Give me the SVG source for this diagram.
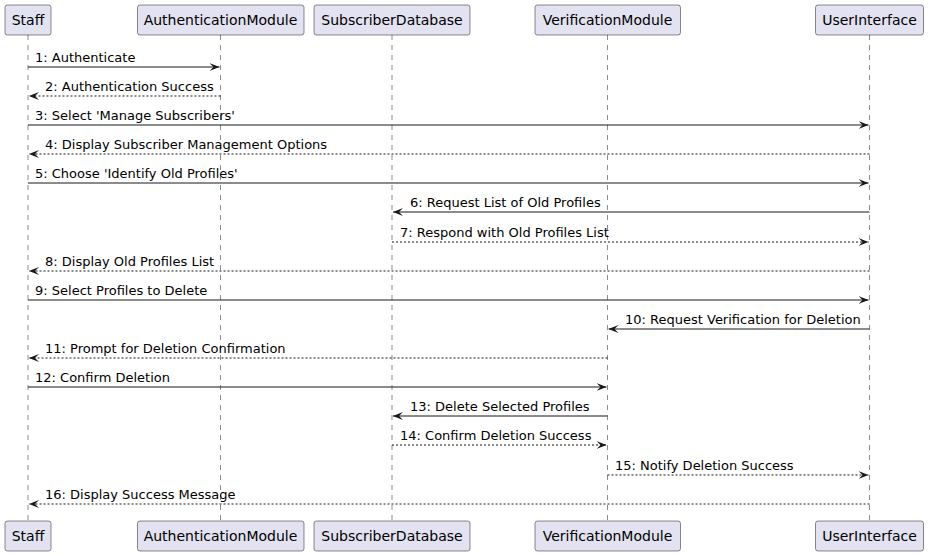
<svg xmlns="http://www.w3.org/2000/svg" width="928" height="556" viewBox="0 0 928 556">
<defs>
<style>
.box{fill:#E2E2F0;stroke:#181818;stroke-width:0.5}
.pt{font-family:"DejaVu Sans","Liberation Sans",sans-serif;font-size:14px;fill:#000;text-anchor:middle}
.life{stroke:#181818;stroke-width:0.5;stroke-dasharray:5,5}
.msg{stroke:#181818;stroke-width:1;fill:none;marker-end:url(#ah)}
.dash{stroke-dasharray:2,2}
.ml{font-family:"DejaVu Sans","Liberation Sans",sans-serif;font-size:13px;fill:#000}
</style>
<marker id="ah" viewBox="0 0 10 8" refX="10" refY="4" markerWidth="10" markerHeight="8" markerUnits="userSpaceOnUse" orient="auto">
<path d="M0,0 L10,4 L0,8 L4,4 Z" fill="#181818"/>
</marker>
</defs>
<rect width="928" height="556" fill="#fff"/>
<g id="lifelines">
<line class="life" x1="28" y1="35" x2="28" y2="521"/>
<line class="life" x1="220.5" y1="35" x2="220.5" y2="521"/>
<line class="life" x1="392" y1="35" x2="392" y2="521"/>
<line class="life" x1="607.5" y1="35" x2="607.5" y2="521"/>
<line class="life" x1="869.5" y1="35" x2="869.5" y2="521"/>
</g>
<g id="Staff">
<rect class="box" x="5" y="5" width="46" height="30" rx="2.5"/>
<text class="pt" x="28" y="25">Staff</text>
<rect class="box" x="5" y="521" width="46" height="30" rx="2.5"/>
<text class="pt" x="28" y="541">Staff</text>
</g>
<g id="AuthenticationModule">
<rect class="box" x="137.5" y="5" width="166.5" height="30" rx="2.5"/>
<text class="pt" x="220.5" y="25">AuthenticationModule</text>
<rect class="box" x="137.5" y="521" width="166.5" height="30" rx="2.5"/>
<text class="pt" x="220.5" y="541">AuthenticationModule</text>
</g>
<g id="SubscriberDatabase">
<rect class="box" x="314" y="5" width="156" height="30" rx="2.5"/>
<text class="pt" x="392" y="25">SubscriberDatabase</text>
<rect class="box" x="314" y="521" width="156" height="30" rx="2.5"/>
<text class="pt" x="392" y="541">SubscriberDatabase</text>
</g>
<g id="VerificationModule">
<rect class="box" x="535" y="5" width="145.5" height="30" rx="2.5"/>
<text class="pt" x="607.5" y="25">VerificationModule</text>
<rect class="box" x="535" y="521" width="145.5" height="30" rx="2.5"/>
<text class="pt" x="607.5" y="541">VerificationModule</text>
</g>
<g id="UserInterface">
<rect class="box" x="815.5" y="5" width="108" height="30" rx="2.5"/>
<text class="pt" x="869.5" y="25">UserInterface</text>
<rect class="box" x="815.5" y="521" width="108" height="30" rx="2.5"/>
<text class="pt" x="869.5" y="541">UserInterface</text>
</g>
<g id="connectors">
<line class="msg" x1="28" y1="67" x2="219.5" y2="67"/>
<text class="ml" x="35" y="62">1: Authenticate</text>
<line class="msg dash" x1="220.5" y1="96" x2="29" y2="96"/>
<text class="ml" x="45" y="91">2: Authentication Success</text>
<line class="msg" x1="28" y1="125" x2="868.5" y2="125"/>
<text class="ml" x="35" y="120">3: Select 'Manage Subscribers'</text>
<line class="msg dash" x1="869.5" y1="154" x2="29" y2="154"/>
<text class="ml" x="45" y="149">4: Display Subscriber Management Options</text>
<line class="msg" x1="28" y1="183" x2="868.5" y2="183"/>
<text class="ml" x="35" y="178">5: Choose 'Identify Old Profiles'</text>
<line class="msg" x1="869.5" y1="212" x2="393" y2="212"/>
<text class="ml" x="410" y="207">6: Request List of Old Profiles</text>
<line class="msg dash" x1="392" y1="242" x2="868.5" y2="242"/>
<text class="ml" x="400" y="237">7: Respond with Old Profiles List</text>
<line class="msg dash" x1="869.5" y1="271" x2="29" y2="271"/>
<text class="ml" x="45" y="266">8: Display Old Profiles List</text>
<line class="msg" x1="28" y1="300" x2="868.5" y2="300"/>
<text class="ml" x="35" y="295">9: Select Profiles to Delete</text>
<line class="msg" x1="869.5" y1="329" x2="608.5" y2="329"/>
<text class="ml" x="625" y="324">10: Request Verification for Deletion</text>
<line class="msg dash" x1="607.5" y1="358" x2="29" y2="358"/>
<text class="ml" x="45" y="353">11: Prompt for Deletion Confirmation</text>
<line class="msg" x1="28" y1="387" x2="606.5" y2="387"/>
<text class="ml" x="35" y="382">12: Confirm Deletion</text>
<line class="msg" x1="607.5" y1="416" x2="393" y2="416"/>
<text class="ml" x="410" y="411">13: Delete Selected Profiles</text>
<line class="msg dash" x1="392" y1="445" x2="606.5" y2="445"/>
<text class="ml" x="400" y="440">14: Confirm Deletion Success</text>
<line class="msg dash" x1="607.5" y1="475" x2="868.5" y2="475"/>
<text class="ml" x="615" y="470">15: Notify Deletion Success</text>
<line class="msg dash" x1="869.5" y1="504" x2="29" y2="504"/>
<text class="ml" x="45" y="499">16: Display Success Message</text>
</g>
</svg>
